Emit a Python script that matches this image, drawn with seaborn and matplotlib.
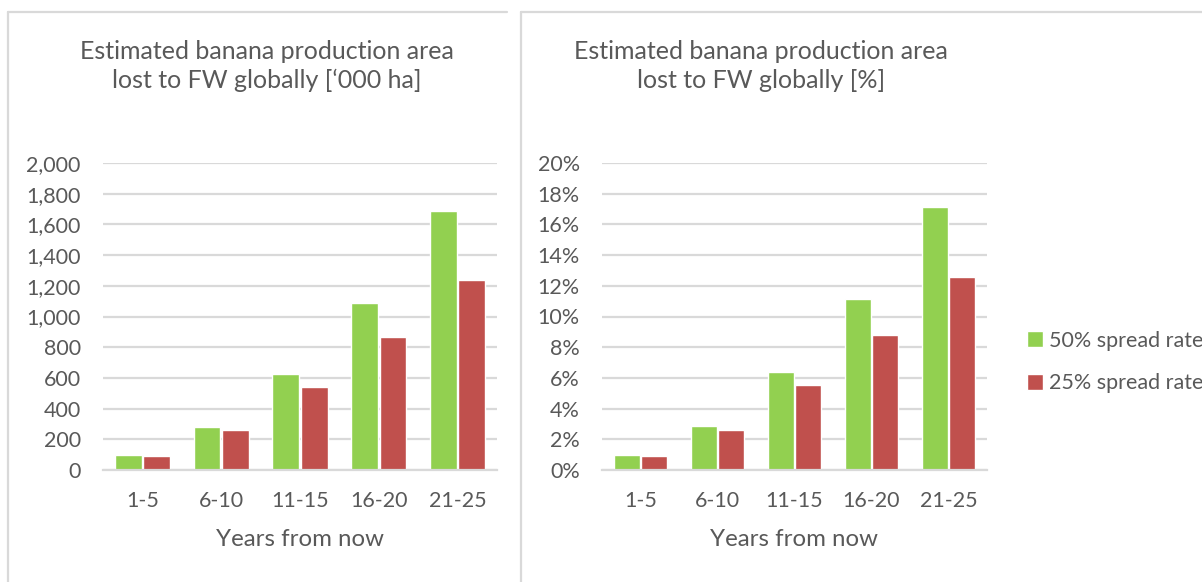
import pandas as pd
import seaborn as sns
import matplotlib.pyplot as plt
import matplotlib.ticker as ticker
from matplotlib.lines import Line2D

# values
periods = ["1-5", "6-10", "11-15", "16-20", "21-25"]
series_names = ["50% spread rate", "25% spread rate"]
area_50 = [97, 282, 625, 1091, 1688]
area_25 = [91, 258, 538, 866, 1241]
share_50 = [0.0098, 0.0286, 0.0636, 0.1115, 0.1714]
share_25 = [0.0091, 0.0260, 0.0551, 0.0878, 0.1258]

left_title = "Estimated banana production area\nlost to FW globally [\u2018000 ha]"
right_title = "Estimated banana production area\nlost to FW globally [%]"
x_title = "Years from now"

GREEN = "#92D050"
RED = "#C0504D"
TEXT = "#595959"
GRID = "#D9D9D9"


def long_frame(a, b):
    return pd.DataFrame({
        "period": periods * 2,
        "value": a + b,
        "series": [series_names[0]] * len(periods) + [series_names[1]] * len(periods),
    })


sns.set_theme(style="white")
plt.rcParams["font.family"] = ["Lato", "DejaVu Sans"]

W, H = 1202, 582
fig = plt.figure(figsize=(W / 100, H / 100), dpi=100)


def px_axes(x0, x1, y_top, y_bottom):
    return fig.add_axes([x0 / W, 1 - y_bottom / H, (x1 - x0) / W, (y_bottom - y_top) / H])


ax1 = px_axes(103, 497, 163, 470)
ax2 = px_axes(602, 987, 163, 470)

palette = {series_names[0]: GREEN, series_names[1]: RED}

sns.barplot(data=long_frame(area_50, area_25), x="period", y="value", hue="series",
            palette=palette, width=0.72, gap=0.06, saturation=1, ax=ax1, legend=False)
sns.barplot(data=long_frame(share_50, share_25), x="period", y="value", hue="series",
            palette=palette, width=0.72, gap=0.06, saturation=1, ax=ax2)

ax1.set_ylim(0, 2000)
ax1.yaxis.set_major_locator(ticker.MultipleLocator(200))
ax1.yaxis.set_major_formatter(ticker.StrMethodFormatter("{x:,.0f}"))
ax2.set_ylim(0, 0.20)
ax2.yaxis.set_major_locator(ticker.MultipleLocator(0.02))
ax2.yaxis.set_major_formatter(ticker.PercentFormatter(1, decimals=0))

for ax in (ax1, ax2):
    ax.set_xlim(-0.5, 4.5)
    ax.set_axisbelow(True)
    ax.grid(axis="y", color=GRID, linewidth=1.6)
    for s in ("left", "right", "top"):
        ax.spines[s].set_visible(False)
    ax.spines["bottom"].set_color(GRID)
    ax.spines["bottom"].set_linewidth(1.6)
    ax.tick_params(axis="both", length=0, labelsize=15.5, labelcolor=TEXT)
    ax.tick_params(axis="y", pad=16)
    ax.tick_params(axis="x", pad=15)
    ax.set_xlabel(x_title, fontsize=17.3, color=TEXT, labelpad=13)
    ax.set_ylabel("")

fig.text(267 / W, 1 - 66 / H, left_title, ha="center", va="center",
         fontsize=18, color=TEXT, linespacing=1.3)
fig.text(761 / W, 1 - 66 / H, right_title, ha="center", va="center",
         fontsize=18, color=TEXT, linespacing=1.3)

sns.move_legend(ax2, "center left", bbox_to_anchor=(1.103, 0.352), frameon=False,
                title=None, fontsize=15.5, handlelength=0.75, handleheight=0.75,
                handletextpad=0.3, labelspacing=1.05, borderpad=0, borderaxespad=0)
for t in ax2.get_legend().get_texts():
    t.set_color(TEXT)

# chart-area borders
border = dict(color=GRID, linewidth=1.6, transform=fig.transFigure)
fig.add_artist(Line2D([8 / W, 8 / W], [0, 1 - 12 / H], **border))
fig.add_artist(Line2D([8 / W, 507 / W], [1 - 12 / H, 1 - 12 / H], **border))
fig.add_artist(Line2D([521 / W, 521 / W], [0, 1 - 12 / H], **border))
fig.add_artist(Line2D([521 / W, 1], [1 - 12 / H, 1 - 12 / H], **border))

fig.savefig("out.png", dpi=100, facecolor="white")
